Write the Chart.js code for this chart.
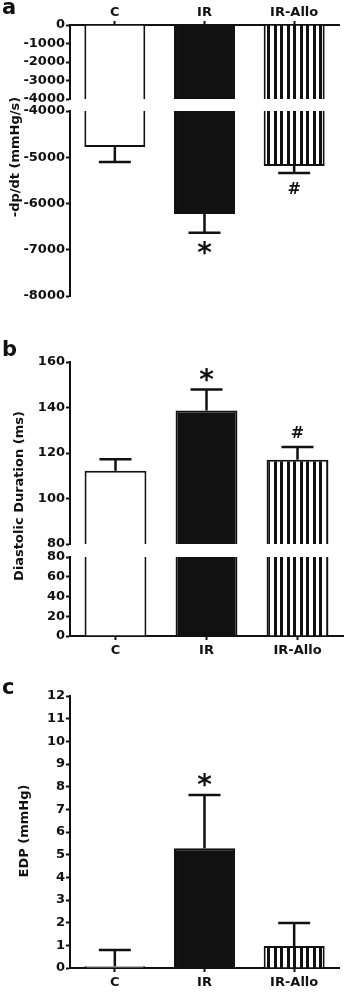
<!DOCTYPE html>
<html>
<head>
<meta charset="utf-8">
<script src="https://cdn.jsdelivr.net/npm/chart.js@4.4.1/dist/chart.umd.min.js"></script>
<style>
html,body{margin:0;padding:0;background:#fff;}
#fig{position:relative;width:345px;height:992px;overflow:hidden;font-family:'DejaVu Sans';font-weight:bold;color:#111;}
#fig canvas{position:absolute;left:0;}
.lbl{position:absolute;left:2px;font-size:21px;line-height:21px;}
.ytitle{position:absolute;font-size:13px;line-height:15px;white-space:nowrap;transform:translate(-50%,-50%) rotate(-90deg);}
</style>
</head>
<body>
<div id="fig">
  <canvas id="a1" width="345" height="109" style="top:0px"></canvas>
  <canvas id="a2" width="345" height="206" style="top:100px"></canvas>
  <canvas id="b1" width="345" height="204" style="top:350px"></canvas>
  <canvas id="b2" width="345" height="113" style="top:547px"></canvas>
  <canvas id="c1" width="345" height="306" style="top:686px"></canvas>
  <div class="lbl" style="top:-3px">a</div>
  <div class="lbl" style="top:339px">b</div>
  <div class="lbl" style="top:677px">c</div>
  <div class="ytitle" style="left:14px;top:157px">-dp/dt (mmHg/s)</div>
  <div class="ytitle" style="left:18px;top:496px">Diastolic Duration (ms)</div>
  <div class="ytitle" style="left:23px;top:831px">EDP (mmHg)</div>
</div>
<script>
// groups
const groups = ['C', 'IR', 'IR-Allo'];

// a: -dp/dt (mmHg/s)
const dpdtMean = [-4780, -6225, -5190];
const dpdtErr = [320, 410, 150];
const dpdtMarks = ['', '*', '#'];
const dpdtUpper = [-4000, 0];
const dpdtLower = [-8000, -4000];
const dpdtStep = 1000;

// b: diastolic duration (ms)
const durMean = [112.2, 138.7, 117.0];
const durErr = [5.0, 9.2, 5.6];
const durMarks = ['', '*', '#'];
const durUpper = [80, 160];
const durLower = [0, 80];
const durStep = 20;

// c: EDP (mmHg)
const edpMean = [0.08, 5.28, 0.97];
const edpErr = [0.71, 2.35, 1.01];
const edpMarks = ['', '*', ''];
const edpRange = [0, 12];
const edpStep = 1;

Chart.defaults.font.family = 'DejaVu Sans';
Chart.defaults.font.weight = 'bold';
Chart.defaults.font.size = 13;
Chart.defaults.color = '#111';

const ink = '#111';

// vertical stripe tile for IR-Allo
const tile = document.createElement('canvas');
tile.width = 13; tile.height = 4;
let tg = tile.getContext('2d');
tg.fillStyle = '#fff'; tg.fillRect(0, 0, 13, 4);
tg.fillStyle = ink; tg.fillRect(1, 0, 3, 4); tg.fillRect(7, 0, 3, 4);

function clamp(v, lo, hi){ return Math.min(hi, Math.max(lo, v)); }

const errorBars = {
  id: 'errorBars',
  afterDatasetsDraw(chart, args, opts){
    if(!opts.means) return;
    const ctx = chart.ctx;
    const x = chart.scales.x, y = chart.scales.y;
    ctx.save();
    opts.means.forEach(function(m, i){
      const dir = m < 0 ? -1 : 1;
      const end = m + dir * opts.errors[i];
      const cx = x.getPixelForValue(i);
      const y0 = y.getPixelForValue(m);
      const y1 = y.getPixelForValue(end);
      ctx.strokeStyle = ink;
      ctx.lineWidth = 2.5;
      ctx.beginPath();
      ctx.moveTo(cx, y0); ctx.lineTo(cx, y1);
      ctx.moveTo(cx - 16, y1); ctx.lineTo(cx + 16, y1);
      ctx.stroke();
      const mark = opts.marks[i];
      if(mark){
        ctx.fillStyle = ink;
        ctx.font = 'bold ' + (mark == '*' ? 28 : 16) + 'px "DejaVu Sans"';
        ctx.textAlign = 'center';
        ctx.textBaseline = 'alphabetic';
        const mt = ctx.measureText(mark);
        const my = y1 - dir * 15;
        ctx.fillText(mark, cx, my + (mt.actualBoundingBoxAscent - mt.actualBoundingBoxDescent) / 2);
      }
    });
    ctx.restore();
  }
};

function segChart(id, means, seg, step, o){
  const canvas = document.getElementById(id);
  const ctx = canvas.getContext('2d');
  const fills = ['#ffffff', ink, ctx.createPattern(tile, 'repeat')];
  return new Chart(canvas, {
    type: 'bar',
    data: {
      labels: groups,
      datasets: [{
        data: means.map(v => [clamp(0, seg[0], seg[1]), clamp(v, seg[0], seg[1])]),
        backgroundColor: fills,
        borderColor: ink,
        borderWidth: o.border,
        borderSkipped: false,
        barPercentage: 0.68,
        categoryPercentage: 1
      }]
    },
    options: {
      responsive: false,
      animation: false,
      layout: { padding: o.pad },
      plugins: {
        legend: { display: false },
        tooltip: { enabled: false },
        errorBars: o.err || false
      },
      scales: {
        x: {
          display: !!o.xPos,
          position: o.xPos || 'bottom',
          grid: { offset: false, drawOnChartArea: false, tickLength: 4, tickWidth: 2, tickColor: ink },
          border: { width: 2, color: ink },
          ticks: { padding: o.xPos == 'top' ? 1 : 3, color: ink },
          afterFit: s => { s.height = o.xH || 0; }
        },
        y: {
          min: seg[0],
          max: seg[1],
          ticks: { stepSize: step, autoSkip: false, padding: 1, color: ink, callback: v => String(v) },
          grid: { drawOnChartArea: false, tickLength: 4, tickWidth: 2, tickColor: ink },
          border: { width: 2, color: ink },
          afterFit: s => { s.width = 70; }
        }
      }
    },
    plugins: [errorBars]
  });
}

/* panel a */
segChart('a1', dpdtMean, dpdtUpper, dpdtStep, {
  xPos: 'top', xH: 25,
  pad: { top: 0, bottom: 10, left: 0, right: 6 },
  border: { left: 2, right: 2, top: 0, bottom: 0 }
});
segChart('a2', dpdtMean, dpdtLower, dpdtStep, {
  pad: { top: 11, bottom: 10, left: 0, right: 6 },
  border: { left: 2, right: 2, top: 0, bottom: 2 },
  err: { means: dpdtMean, errors: dpdtErr, marks: dpdtMarks }
});

/* panel b */
segChart('b1', durMean, durUpper, durStep, {
  pad: { top: 12, bottom: 10, left: 0, right: 2 },
  border: { left: 2, right: 2, top: 2, bottom: 0 },
  err: { means: durMean, errors: durErr, marks: durMarks }
});
segChart('b2', durMean, durLower, durStep, {
  xPos: 'bottom', xH: 24,
  pad: { top: 10, bottom: 0, left: 0, right: 2 },
  border: { left: 2, right: 2, top: 0, bottom: 0 }
});

/* panel c */
segChart('c1', edpMean, edpRange, edpStep, {
  xPos: 'bottom', xH: 24,
  pad: { top: 10, bottom: 0, left: 0, right: 6 },
  border: { left: 2, right: 2, top: 2, bottom: 0 },
  err: { means: edpMean, errors: edpErr, marks: edpMarks }
});
</script>
</body>
</html>
